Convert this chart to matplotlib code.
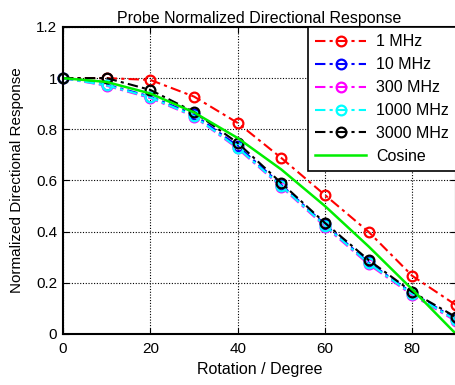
import matplotlib
matplotlib.use("Agg")
import matplotlib.pyplot as plt

plt.rcParams['font.family'] = ['Liberation Sans', 'DejaVu Sans']

angle = [0, 10, 20, 30, 40, 50, 60, 70, 80, 90]
resp_1mhz = [1.0, 1.0, 0.993, 0.928, 0.825, 0.688, 0.543, 0.399, 0.227, 0.113]
resp_10mhz = [1.0, 0.975, 0.928, 0.858, 0.735, 0.583, 0.428, 0.280, 0.160, 0.058]
resp_300mhz = [1.0, 0.970, 0.922, 0.850, 0.725, 0.575, 0.420, 0.272, 0.152, 0.050]
resp_1000mhz = [1.0, 0.972, 0.925, 0.852, 0.728, 0.578, 0.424, 0.276, 0.156, 0.054]
resp_3000mhz = [1.0, 1.0, 0.954, 0.868, 0.747, 0.590, 0.434, 0.289, 0.164, 0.066]
cosine = [1.0, 0.985, 0.940, 0.866, 0.766, 0.643, 0.500, 0.342, 0.174, 0.0]

series = [
    (resp_1mhz, 'red', '1 MHz'),
    (resp_10mhz, 'blue', '10 MHz'),
    (resp_300mhz, 'magenta', '300 MHz'),
    (resp_1000mhz, 'cyan', '1000 MHz'),
    (resp_3000mhz, 'black', '3000 MHz'),
]

fig = plt.figure(figsize=(4.56, 3.85), dpi=100)
ax = fig.add_axes([0.138, 0.1325, 0.862, 0.7975])

for vals, col, lab in series:
    ax.plot(angle, vals, color=col, linestyle=(0, (5, 2, 1.5, 2)), linewidth=1.5,
            marker='o', markersize=7, markerfacecolor='none',
            markeredgecolor=col, markeredgewidth=1.6, label=lab, clip_on=False)
ax.plot(angle, cosine, color='#00ee00', linewidth=1.8, label='Cosine')

ax.set_xlim(0, 90)
ax.set_ylim(0, 1.2)
ax.set_xticks([0, 20, 40, 60, 80])
ax.set_yticks([0, 0.2, 0.4, 0.6, 0.8, 1.0, 1.2])
ax.set_yticklabels(['0', '0.2', '0.4', '0.6', '0.8', '1', '1.2'])
ax.tick_params(direction='in', top=True, right=True, labelsize=11, length=4, pad=4)
ax.tick_params(axis='x', pad=6)
ax.grid(True, color='black', linestyle=(0, (1, 1.5)), linewidth=0.8)
for sp in ax.spines.values():
    sp.set_linewidth(1.5)

ax.set_title('Probe Normalized Directional Response', fontsize=11.5, pad=3)
ax.set_xlabel('Rotation / Degree', fontsize=11.5, labelpad=4)
ax.set_ylabel('Normalized Directional Response', fontsize=11, labelpad=9)

leg = ax.legend(loc='upper right', fontsize=11.5, frameon=True, fancybox=False,
                edgecolor='black', framealpha=1, borderaxespad=0,
                handlelength=3.2, labelspacing=0.5, borderpad=0.45, handletextpad=0.6)
leg.get_frame().set_linewidth(1.2)

fig.savefig('out.png', dpi=100)
